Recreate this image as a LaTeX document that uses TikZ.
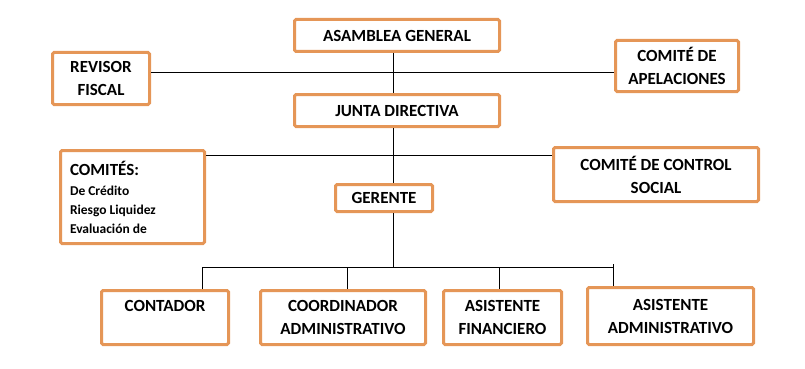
\documentclass[tikz,border=0pt]{standalone}
\usepackage{fontspec}
\setmainfont{Carlito}
\usepackage{tikz}
\usetikzlibrary{positioning, calc}
\definecolor{naranja}{RGB}{229,150,87}

\begin{document}
\begin{tikzpicture}[x=1pt, y=-1pt, line width=1pt,
  cargo/.style={draw=naranja, line width=3pt, rounded corners=1.5pt, align=center, inner sep=2pt, fill=white, font=\bfseries\fontsize{17}{23}\selectfont},
  ancho/.style={cargo, minimum width=205pt, minimum height=32pt},
  doble/.style={cargo, minimum height=54pt}]

  \useasboundingbox (0,0) rectangle (805,369);

  % organos de direccion
  \node[ancho] (asamblea) at (397,35.5) {ASAMBLEA GENERAL};
  \node[cargo, minimum width=97pt, minimum height=52pt] (revisor) at (101,78.5) {REVISOR\\FISCAL};
  \node[cargo, minimum width=123pt, minimum height=51pt] (apelaciones) at (677,66) {COMITÉ DE\\APELACIONES};
  \node[ancho] (junta) at (397,110.5) {JUNTA DIRECTIVA};

  \node[cargo, align=flush left, text width=125pt, minimum width=144pt, minimum height=93pt,
    font=\bfseries\fontsize{13.5}{19}\selectfont] (comites) at (132.5,197)
    {{\fontsize{17}{20}\selectfont COMITÉS:}\\[1pt]De Crédito\\Riesgo Liquidez\\Evaluación de};
  \node[cargo, minimum width=205pt, minimum height=54pt] (control) at (656,174.5) {COMITÉ DE CONTROL\\SOCIAL};
  \node[cargo, minimum width=97pt, minimum height=27pt] (gerente) at (384,198) {GERENTE};

  % cargos operativos
  \node[doble, minimum width=127pt] (contador) at (165,317.5) {CONTADOR\\~};
  \node[doble, minimum width=165pt] (coordinador) at (343,317.5) {COORDINADOR\\ADMINISTRATIVO};
  \node[doble, minimum width=118pt] (financiero) at (502.5,317.5) {ASISTENTE\\FINANCIERO};
  \node[doble, minimum width=166pt, minimum height=57pt] (asistadmin) at (670.5,316) {ASISTENTE\\ADMINISTRATIVO};

  \coordinate (eje) at (393,0);
  \coordinate (l1) at (393,72);
  \coordinate (l2) at (393,155);
  \coordinate (b0) at (393,267);
  \coordinate (b1) at (202,267);
  \coordinate (b2) at (347,267);
  \coordinate (b3) at (499,267);
  \coordinate (b4) at (613,267);

  \draw (eje |- asamblea.south) -- (eje |- junta.north);
  \draw (revisor.east |- l1) -- (apelaciones.west |- l1);
  \draw (eje |- junta.south) -- (eje |- gerente.north);
  \draw (comites.east |- l2) -- (control.west |- l2);
  \draw (eje |- gerente.south) -- (b0);
  \draw (b1) -- (b4);
  \draw (b1) -- (b1 |- contador.north);
  \draw (b2) -- (b2 |- coordinador.north);
  \draw (b3) -- (b3 |- financiero.north);
  \draw ($(b4)+(0,-3)$) -- (b4 |- asistadmin.north);
\end{tikzpicture}
\end{document}
